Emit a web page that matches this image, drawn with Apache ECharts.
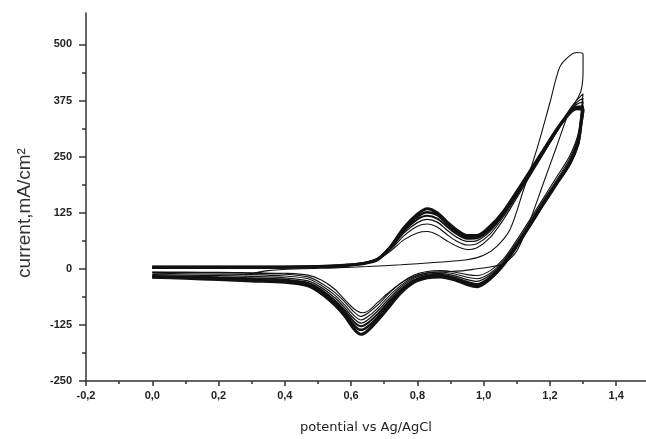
<!DOCTYPE html>
<html>
<head>
<meta charset="utf-8">
<script src="https://cdn.jsdelivr.net/npm/echarts@6/dist/echarts.min.js"></script>
<style>
  html, body { margin: 0; padding: 0; background: #fff; }
  #cv { width: 646px; height: 439px; }
</style>
</head>
<body>
<div id="cv"></div>
<script>
// axis ticks
const xTicks = [-0.2, 0.0, 0.2, 0.4, 0.6, 0.8, 1.0, 1.2, 1.4]
const xMinorTicks = [-0.1, 0.1, 0.3, 0.5, 0.7, 0.9, 1.1, 1.3]
const yTicks = [-250, -125, 0, 125, 250, 375, 500]
const yMinorTicks = [-187.5, -62.5, 62.5, 187.5, 312.5, 437.5]

// first scan, starts at 0.28 V and overshoots to ~480
const potential1 = [0.28, 0.35, 0.45, 0.55, 0.65, 0.75, 0.85, 0.95, 1.00, 1.04, 1.08, 1.12, 1.16, 1.20, 1.23, 1.26, 1.28, 1.30,
  1.30, 1.295, 1.28, 1.26, 1.22, 1.18, 1.14, 1.10, 1.06, 1.02, 0.98, 0.94, 0.90, 0.85, 0.80, 0.75, 0.71, 0.68, 0.655, 0.635, 0.61, 0.58, 0.55, 0.51, 0.47, 0.40, 0.30, 0.20, 0.10, 0.00]
const current1 = [-14, -4, 0, 2, 5, 9, 14, 20, 30, 50, 88, 175, 265, 370, 450, 475, 482, 478,
  440, 400, 375, 354, 272, 190, 108, 40, 12, 4, 0, -4, -6, -8, -14, -32, -55, -75, -92, -98, -90, -68, -45, -25, -14, -10, -9, -8, -8, -8]

// following scans: 0 -> 1.3 -> 0 V
const potential = [0.00, 0.10, 0.20, 0.30, 0.40, 0.50, 0.58, 0.64, 0.68, 0.72, 0.76, 0.80, 0.83, 0.86, 0.89, 0.92, 0.95, 0.98, 1.02, 1.06, 1.10, 1.14, 1.18, 1.22, 1.25, 1.28, 1.30,
  1.295, 1.285, 1.26, 1.22, 1.18, 1.14, 1.10, 1.06, 1.02, 0.98, 0.95, 0.91, 0.87, 0.83, 0.79, 0.75, 0.71, 0.68, 0.65, 0.63, 0.61, 0.58, 0.55, 0.51, 0.47, 0.40, 0.30, 0.20, 0.10, 0.00]
const current2 = [1, 1, 1, 1, 2, 3, 5, 11, 20, 40, 65, 80, 83, 76, 62, 50, 43, 47, 70, 110, 158, 207, 256, 305, 345, 375, 390,
  355, 300, 252, 204, 157, 110, 64, 22, -4, -15, -13, -7, -4, -6, -14, -32, -58, -81, -99, -106, -97, -73, -52, -32, -18, -12, -10, -9, -8, -7]
const current3 = [2, 2, 2, 2, 2, 3, 6, 12, 21, 43, 74, 95, 100, 93, 76, 61, 53, 56, 78, 116, 162, 210, 257, 305, 342, 370, 380,
  345, 294, 246, 198, 152, 105, 59, 18, -10, -22, -19, -11, -7, -9, -18, -37, -64, -88, -107, -114, -105, -80, -58, -37, -22, -16, -13, -12, -11, -10]
const current4 = [2, 2, 2, 2, 3, 4, 7, 13, 22, 46, 80, 103, 110, 104, 86, 70, 61, 63, 84, 120, 165, 212, 258, 305, 340, 366, 372,
  338, 288, 240, 194, 148, 101, 55, 14, -14, -28, -24, -15, -10, -12, -21, -41, -70, -94, -114, -121, -112, -86, -64, -42, -27, -20, -17, -15, -14, -13]
const current5 = [3, 3, 3, 3, 3, 4, 7, 13, 22, 48, 84, 110, 118, 112, 94, 77, 67, 68, 88, 123, 168, 214, 260, 306, 338, 360, 362,
  330, 282, 236, 190, 145, 98, 52, 10, -18, -34, -29, -19, -13, -15, -25, -46, -76, -101, -121, -128, -119, -92, -70, -47, -31, -24, -21, -19, -17, -16]
const current6 = [4, 4, 4, 4, 4, 5, 8, 13, 22, 50, 88, 116, 126, 120, 100, 82, 71, 72, 92, 126, 170, 216, 262, 308, 338, 356, 352,
  325, 278, 233, 188, 143, 96, 50, 8, -22, -38, -33, -22, -16, -18, -28, -50, -82, -108, -129, -136, -127, -98, -75, -51, -35, -28, -25, -22, -20, -18]
const current7 = [4, 4, 4, 4, 4, 5, 8, 12, 20, 50, 92, 122, 134, 125, 104, 86, 74, 74, 95, 128, 172, 218, 264, 310, 340, 360, 355,
  330, 280, 235, 190, 145, 98, 52, 10, -22, -40, -35, -24, -18, -20, -30, -54, -89, -115, -138, -146, -135, -104, -80, -55, -38, -30, -27, -24, -21, -19]

const scans = [
  { x: potential1, y: current1, width: 1.1 },
  { x: potential, y: current2, width: 1.1 },
  { x: potential, y: current3, width: 1.1 },
  { x: potential, y: current4, width: 1.3 },
  { x: potential, y: current5, width: 2 },
  { x: potential, y: current6, width: 2.5 },
  { x: potential, y: current7, width: 3 }
]

const labelFont = { color: "#222", fontSize: 11, fontWeight: "bold", fontFamily: "Liberation Sans" }

const chart = echarts.init(document.getElementById("cv"))
chart.setOption({
  animation: false,
  backgroundColor: "#fff",
  grid: { left: 86, top: 13, right: 0, bottom: 56 },
  xAxis: [
    {
      type: "value", min: -0.2, max: 1.49,
      name: "potential vs Ag/AgCl", nameLocation: "middle", nameGap: 40,
      nameTextStyle: { color: "#222", fontSize: 13, fontFamily: "DejaVu Sans" },
      axisLine: { onZero: false, lineStyle: { color: "#333", width: 1.5 } },
      axisTick: { customValues: xTicks, length: 5, lineStyle: { color: "#333", width: 1.5 } },
      axisLabel: { customValues: xTicks, margin: 9, ...labelFont, formatter: (v) => v.toFixed(1).replace(".", ",") },
      splitLine: { show: false }
    },
    {
      type: "value", min: -0.2, max: 1.49, position: "bottom",
      axisLine: { show: false, onZero: false },
      axisTick: { customValues: xMinorTicks, length: 3, lineStyle: { color: "#333", width: 1.5 } },
      axisLabel: { show: false },
      splitLine: { show: false }
    }
  ],
  yAxis: [
    {
      type: "value", min: -250, max: 570,
      name: "current,mA/cm²", nameLocation: "middle", nameGap: 52,
      // padding on the right pushes the rotated title a bit lower
      nameTextStyle: { color: "#333", fontSize: 19, fontFamily: "Liberation Sans", padding: [0, 32, 0, 0] },
      axisLine: { onZero: false, lineStyle: { color: "#333", width: 1.5 } },
      axisTick: { customValues: yTicks, length: 7, lineStyle: { color: "#333", width: 1.5 } },
      axisLabel: { customValues: yTicks, margin: 14, ...labelFont },
      splitLine: { show: false }
    },
    {
      type: "value", min: -250, max: 570, position: "left",
      axisLine: { show: false, onZero: false },
      axisTick: { customValues: yMinorTicks, length: 4, lineStyle: { color: "#333", width: 1.5 } },
      axisLabel: { show: false },
      splitLine: { show: false }
    }
  ],
  series: scans.map((s) => ({
    type: "line",
    xAxisIndex: 0,
    yAxisIndex: 0,
    data: s.x.map((v, i) => [v, s.y[i]]),
    showSymbol: false,
    smooth: 0.3,
    lineStyle: { color: "#111", width: s.width },
    emphasis: { disabled: true }
  }))
})
</script>
</body>
</html>
